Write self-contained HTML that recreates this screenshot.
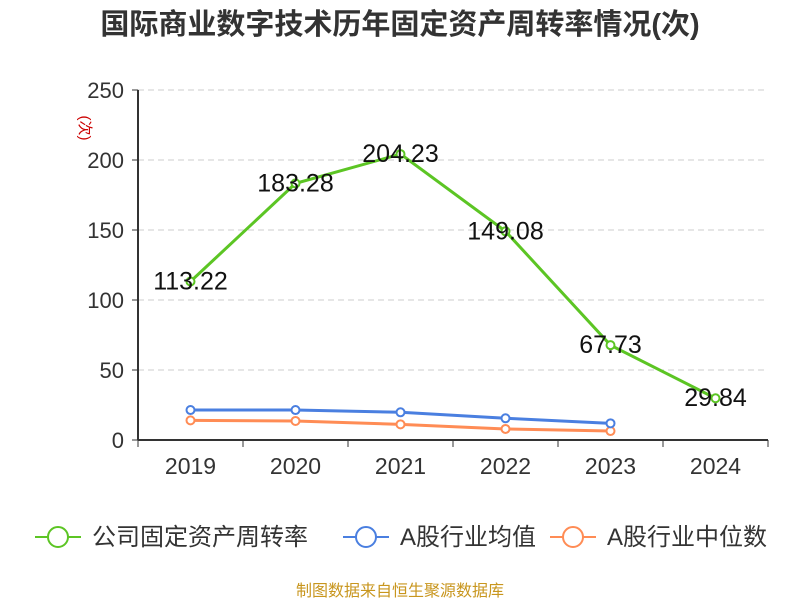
<!DOCTYPE html>
<html><head><meta charset="utf-8"><style>
body{margin:0;background:#fff;font-family:"Liberation Sans","Noto Sans CJK SC",sans-serif}
</style></head><body>
<svg width="800" height="600" xmlns="http://www.w3.org/2000/svg" id="c" font-family="Liberation Sans, Noto Sans CJK SC, sans-serif">
<text x="400" y="34" text-anchor="middle" font-size="29" font-weight="bold" fill="#333">国际商业数字技术历年固定资产周转率情况(次)</text>
<text x="80" y="128" font-size="15" fill="#c00" transform="rotate(90 80 128)" text-anchor="middle">(次)</text>
<text x="400" y="596" text-anchor="middle" font-size="16" fill="#c8961e">制图数据来自恒生聚源数据库</text>
</svg>
<script>
const categories=["2019","2020","2021","2022","2023","2024"];
const turnover=[113.22,183.28,204.23,149.08,67.73,29.84];
const industryAvg=[21.4,21.4,19.8,15.5,11.9];
const industryMedian=[14,13.6,11.2,7.9,6.4];
const yTicks=[0,50,100,150,200,250];
const ns="http://www.w3.org/2000/svg";
const svg=document.getElementById('c');
const x0=138,x1=768,y0=440,y1=90,yMax=250;
const bw=(x1-x0)/categories.length;
const xs=i=>x0+bw*(i+0.5);
const ys=v=>y0-(v/yMax)*(y0-y1);
function mk(t,a){const e=document.createElementNS(ns,t);for(const k in a)e.setAttribute(k,a[k]);svg.appendChild(e);return e;}
yTicks.forEach(v=>{
 if(v>0){const g=mk('line',{x1:x0,x2:x1,y1:ys(v),y2:ys(v),stroke:'#ccc','stroke-dasharray':'6,4'});
 
 }
 const tk=mk('line',{x1:x0-6,x2:x0,y1:ys(v),y2:ys(v),stroke:'#333'});
 
 
 const t=mk('text',{x:x0-14,y:ys(v)+8,'text-anchor':'end','font-size':22,fill:'#333'});t.textContent=v;
 
 
});
const ya=mk('line',{x1:x0,x2:x0,y1:y1,y2:y0,stroke:'#333','stroke-width':2});


const xa=mk('line',{x1:x0,x2:x1,y1:y0,y2:y0,stroke:'#333','stroke-width':2});


for(let i=0;i<=categories.length;i++){const l=mk('line',{x1:x0+bw*i,x2:x0+bw*i,y1:y0,y2:y0+7,stroke:'#333'});
 
 }
categories.forEach((c,i)=>{const t=mk('text',{x:xs(i),y:y0+34,'text-anchor':'middle','font-size':23,fill:'#333'});t.textContent=c;
 
 });
function series(data,color,name,labels){
 const p=mk('polyline',{points:data.map((v,i)=>xs(i)+','+ys(v)).join(' '),fill:'none',stroke:color,'stroke-width':3});
 
 
 data.forEach((v,i)=>{const c=mk('circle',{cx:xs(i),cy:ys(v),r:4,fill:'#fff',stroke:color,'stroke-width':2});
  
  
  if(labels){const t=mk('text',{x:xs(i),y:ys(v)+8,'text-anchor':'middle','font-size':25,fill:'#111'});t.textContent=v.toFixed(2);
   
   }
 });
}
series(industryMedian,'#ff8c55','industry-median',false);
series(industryAvg,'#4a7fe0','industry-average',false);
series(turnover,'#5cc524','turnover',true);
const leg=[["公司固定资产周转率",'#5cc524',35],["A股行业均值",'#4a7fe0',343],["A股行业中位数",'#ff8c55',550]];
leg.forEach(([n,c,x])=>{
 const l=mk('line',{x1:x,x2:x+46,y1:537,y2:537,stroke:c,'stroke-width':2});
 
 
 const ci=mk('circle',{cx:x+23,cy:537,r:10,fill:'#fff',stroke:c,'stroke-width':2});
 
 
 const t=mk('text',{x:x+57,y:545,'font-size':24,fill:'#333'});t.textContent=n;
 
 
});
</script>
</body></html>
